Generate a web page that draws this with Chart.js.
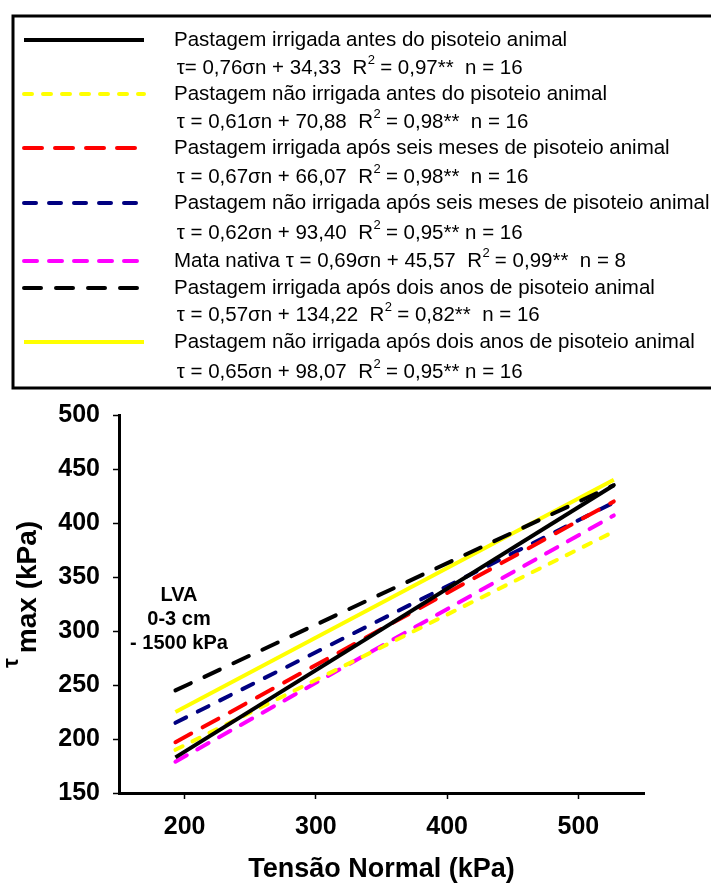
<!DOCTYPE html>
<html>
<head>
<meta charset="utf-8">
<script src="https://cdn.jsdelivr.net/npm/chart.js@4/dist/chart.umd.min.js"></script>
<style>
  html, body { margin: 0; padding: 0; background: #ffffff; }
  canvas { display: block; }
</style>
</head>
<body>
<canvas id="chart" width="711" height="885"></canvas>
<script>
// ---------- DATA ----------
const normalStress = [193, 527];               // Tensão Normal (kPa), start and end of each fitted line
const pastIrrigAntes      = [183, 435];
const pastNaoIrrigAntes   = [190, 392];
const pastIrrigSeis       = [197, 420];
const pastNaoIrrigSeis    = [215, 419];
const mataNativa          = [179, 407];
const pastIrrigDois       = [245, 435];
const pastNaoIrrigDois    = [225, 440];

const xTicks = [200, 300, 400, 500];
const yTicks = [150, 200, 250, 300, 350, 400, 450, 500];

const seriesNames = [
  "Pastagem irrigada antes do pisoteio animal",
  "Pastagem não irrigada antes do pisoteio animal",
  "Pastagem irrigada após seis meses de pisoteio animal",
  "Pastagem não irrigada após seis meses de pisoteio animal",
  "Mata nativa",
  "Pastagem irrigada após dois anos de pisoteio animal",
  "Pastagem não irrigada após dois anos de pisoteio animal"
];
// equation text: [before superscript, superscript, after]
const equations = [
  [" τ= 0,76σn + 34,33  R", "2", " = 0,97**  n = 16"],
  [" τ = 0,61σn + 70,88  R", "2", " = 0,98**  n = 16"],
  [" τ = 0,67σn + 66,07  R", "2", " = 0,98**  n = 16"],
  [" τ = 0,62σn + 93,40  R", "2", " = 0,95** n = 16"],
  [" τ = 0,69σn + 45,57  R", "2", " = 0,99**  n = 8"],
  [" τ = 0,57σn + 134,22  R", "2", " = 0,82**  n = 16"],
  [" τ = 0,65σn + 98,07  R", "2", " = 0,95** n = 16"]
];
const seriesValues = [pastIrrigAntes, pastNaoIrrigAntes, pastIrrigSeis, pastNaoIrrigSeis,
                      mataNativa, pastIrrigDois, pastNaoIrrigDois];
const annotationLines = ["LVA", "0-3 cm", "- 1500 kPa"];
const xTitle = "Tensão Normal (kPa)";
const yTitleMain = "τ";
const yTitleSub = "max (kPa)";

// ---------- STYLES ----------
const FONT = '"Liberation Sans", Arial, Helvetica, sans-serif';
const styles = [
  { color: '#000000', dash: [] },
  { color: '#ffff00', dash: [8, 11] },
  { color: '#ff0000', dash: [18, 13] },
  { color: '#000080', dash: [12, 13] },
  { color: '#ff00ff', dash: [13, 12] },
  { color: '#000000', dash: [17, 15] },
  { color: '#ffff00', dash: [] }
];

const datasets = seriesNames.map((name, i) => ({
  label: name,
  data: normalStress.map((x, j) => ({ x: x, y: seriesValues[i][j] })),
  borderColor: styles[i].color,
  backgroundColor: styles[i].color,
  borderDash: styles[i].dash,
  borderWidth: 4,
  borderCapStyle: styles[i].dash.length ? 'round' : 'butt',
  pointRadius: 0,
  fill: false,
  tension: 0
}));

// ---------- CUSTOM DRAWING (legend box, titles, annotation) ----------
const decorPlugin = {
  id: 'decor',
  afterDraw(chart) {
    const ctx = chart.ctx;
    ctx.save();
    // legend frame
    ctx.setLineDash([]);
    ctx.lineWidth = 3;
    ctx.strokeStyle = '#000';
    ctx.strokeRect(13, 16, 730, 372);

    const titleRows = [40, 94, 148, 203, 261, 288, 342];
    const eqRows = [68, 122, 177, 233, null, 315, 372];
    ctx.textBaseline = 'middle';
    ctx.textAlign = 'left';
    chart.data.datasets.forEach((ds, i) => {
      const y = titleRows[i];
      // sample line
      ctx.beginPath();
      ctx.setLineDash(ds.borderDash);
      ctx.lineCap = ds.borderCapStyle;
      ctx.lineWidth = 4;
      ctx.strokeStyle = ds.borderColor;
      ctx.moveTo(24, y);
      ctx.lineTo(144, y);
      ctx.stroke();
      ctx.setLineDash([]);
      // texts
      ctx.fillStyle = '#000';
      ctx.font = '20.5px ' + FONT;
      ctx.fillText(ds.label, 174, y);
      let ey = eqRows[i];
      let ex = 171;
      if (ey === null) { ey = y; ex = 174 + ctx.measureText(ds.label).width; }
      const eq = equations[i];
      ctx.fillText(eq[0], ex, ey);
      ex += ctx.measureText(eq[0]).width;
      ctx.font = '13px ' + FONT;
      ctx.fillText(eq[1], ex + 0.5, ey - 8);
      ex += ctx.measureText(eq[1]).width;
      ctx.font = '20.5px ' + FONT;
      ctx.fillText(eq[2], ex, ey);
    });

    // annotation
    ctx.font = 'bold 20px ' + FONT;
    ctx.textAlign = 'center';
    const annY = [595, 619, 643];
    annotationLines.forEach((t, k) => ctx.fillText(t, 179, annY[k]));

    // x title
    const area = chart.chartArea;
    ctx.font = 'bold 27px ' + FONT;
    ctx.fillText(xTitle, (area.left + area.right) / 2, 870);

    // y title (rotated, with subscript)
    ctx.textAlign = 'left';
    ctx.textBaseline = 'alphabetic';
    ctx.save();
    ctx.translate(18, 668);
    ctx.rotate(-Math.PI / 2);
    ctx.font = 'bold 22px ' + FONT;
    ctx.fillText(yTitleMain, 0, 0);
    const w = ctx.measureText(yTitleMain).width;
    ctx.font = 'bold 28px ' + FONT;
    ctx.fillText(yTitleSub, w + 5, 18);
    ctx.restore();

    ctx.restore();
  }
};

new Chart(document.getElementById('chart').getContext('2d'), {
  type: 'line',
  data: { datasets: datasets },
  options: {
    responsive: false,
    animation: false,
    devicePixelRatio: 1,
    layout: { padding: { top: 415, right: 67, left: 0, bottom: 0 } },
    plugins: { legend: { display: false }, tooltip: { enabled: false } },
    scales: {
      x: {
        type: 'linear',
        min: 150,
        max: 550,
        afterBuildTicks: (s) => { s.ticks = xTicks.map(v => ({ value: v })); },
        afterFit: (s) => { s.height = 92; },
        grid: { display: true, drawOnChartArea: false, drawTicks: true, tickLength: 6, tickWidth: 1.5, tickColor: '#000' },
        border: { display: true, color: '#000', width: 3 },
        ticks: { color: '#000', font: { family: FONT, size: 25, weight: 'bold' }, padding: 13, maxRotation: 0 }
      },
      y: {
        type: 'linear',
        min: 150,
        max: 500,
        afterBuildTicks: (s) => { s.ticks = yTicks.map(v => ({ value: v })); },
        afterFit: (s) => { s.width = 119; },
        grid: { display: true, drawOnChartArea: false, drawTicks: true, tickLength: 6, tickWidth: 1.5, tickColor: '#000' },
        border: { display: true, color: '#000', width: 3 },
        ticks: { color: '#000', font: { family: FONT, size: 25, weight: 'bold' }, padding: 13 }
      }
    }
  },
  plugins: [decorPlugin]
});
</script>
</body>
</html>
